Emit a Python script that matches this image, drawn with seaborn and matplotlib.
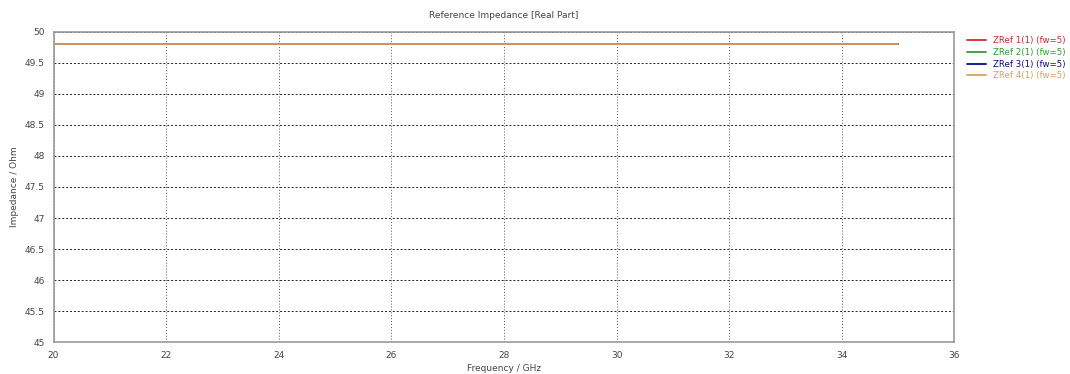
import pandas as pd
import matplotlib.pyplot as plt
import seaborn as sns

# frequency sweep endpoints (GHz) and reference impedance real part (Ohm)
freq = [20.0, 35.0]
zref1 = [49.81, 49.81]
zref2 = [49.81, 49.81]
zref3 = [49.81, 49.81]
zref4 = [49.81, 49.81]
labels = ["ZRef 1(1) (fw=5)", "ZRef 2(1) (fw=5)", "ZRef 3(1) (fw=5)", "ZRef 4(1) (fw=5)"]
colors = ["#d62728", "#2ca02c", "#0a0a8c", "#e0a060"]

rows = []
for lab, vals in zip(labels, [zref1, zref2, zref3, zref4]):
    for f, v in zip(freq, vals):
        rows.append({"Frequency": f, "Impedance": v, "Port": lab})
df = pd.DataFrame(rows)

sns.set_style("white")
plt.rcParams['font.family'] = ['DejaVu Sans']

fig, ax = plt.subplots(figsize=(10.7, 3.74), dpi=100)
fig.subplots_adjust(left=0.05, right=0.892, top=0.915, bottom=0.085)

sns.lineplot(data=df, x="Frequency", y="Impedance", hue="Port",
             palette=colors, linewidth=1.3, ax=ax)

ax.set_xlim(20, 36)
ax.set_ylim(45, 50)
ax.set_xticks(range(20, 37, 2))
ax.set_yticks([45 + 0.5 * i for i in range(11)])
ax.set_yticklabels(["45", "45.5", "46", "46.5", "47", "47.5", "48", "48.5", "49", "49.5", "50"])
ax.tick_params(labelsize=6.5, colors="#444444", length=3)
ax.grid(True, axis="y", color="#222222", linestyle=(0, (2, 2)), linewidth=0.7)
ax.grid(True, axis="x", color="#555555", linestyle=(0, (1, 2)), linewidth=0.7)
for s in ax.spines.values():
    s.set_color("#999999")
    s.set_linewidth(1.2)

ax.set_xlabel("Frequency / GHz", fontsize=6.5, color="#444444", labelpad=3)
ax.set_ylabel("Impedance / Ohm", fontsize=6.5, color="#444444", labelpad=4)
ax.set_title("Reference Impedance [Real Part]", fontsize=6.5, color="#444444", pad=10)

leg = ax.legend(loc="upper left", bbox_to_anchor=(1.005, 1.01), frameon=False,
                fontsize=6.2, handlelength=2.2, labelspacing=0.3)
for txt, c in zip(leg.get_texts(), colors):
    txt.set_color(c)

fig.savefig("out.png", dpi=100)
